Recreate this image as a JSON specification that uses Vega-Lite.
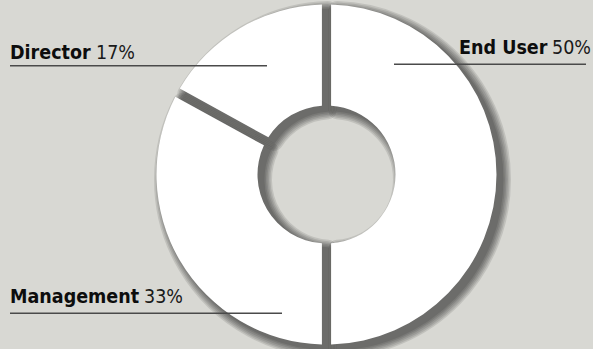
{
  "$schema": "https://vega.github.io/schema/vega-lite/v6.json",
  "width": 533,
  "height": 349,
  "autosize": {"type": "none"},
  "padding": {"left": 60, "top": 0, "right": 0, "bottom": 0},
  "background": "#d8d8d3",
  "config": {"view": {"stroke": null}},
  "data": {
    "values": [
      {"category": "End User", "value": 0.5},
      {"category": "Management", "value": 0.33},
      {"category": "Director", "value": 0.17}
    ]
  },
  "layer": [
    {
      "mark": {"type": "arc", "outerRadius": 170, "innerRadius": 69, "padAngle": 0.05, "fill": "#000", "stroke": "#000", "strokeWidth": 2, "strokeJoin": "round", "opacity": 0.1, "xOffset": 6, "yOffset": 5},
      "encoding": {
        "theta": {"field": "value", "type": "quantitative", "stack": true},
        "order": {"field": "value", "type": "quantitative", "sort": "descending"},
        "detail": {"field": "category"}
      }
    },
    {
      "mark": {"type": "arc", "outerRadius": 170, "innerRadius": 69, "padAngle": 0.05, "fill": "#000", "stroke": "#000", "strokeWidth": 5, "strokeJoin": "round", "opacity": 0.1, "xOffset": 6, "yOffset": 5},
      "encoding": {
        "theta": {"field": "value", "type": "quantitative", "stack": true},
        "order": {"field": "value", "type": "quantitative", "sort": "descending"},
        "detail": {"field": "category"}
      }
    },
    {
      "mark": {"type": "arc", "outerRadius": 170, "innerRadius": 69, "padAngle": 0.05, "fill": "#000", "stroke": "#000", "strokeWidth": 8, "strokeJoin": "round", "opacity": 0.1, "xOffset": 6, "yOffset": 5},
      "encoding": {
        "theta": {"field": "value", "type": "quantitative", "stack": true},
        "order": {"field": "value", "type": "quantitative", "sort": "descending"},
        "detail": {"field": "category"}
      }
    },
    {
      "mark": {"type": "arc", "outerRadius": 170, "innerRadius": 69, "padAngle": 0.05, "fill": "#000", "stroke": "#000", "strokeWidth": 11, "strokeJoin": "round", "opacity": 0.1, "xOffset": 6, "yOffset": 5},
      "encoding": {
        "theta": {"field": "value", "type": "quantitative", "stack": true},
        "order": {"field": "value", "type": "quantitative", "sort": "descending"},
        "detail": {"field": "category"}
      }
    },
    {
      "mark": {"type": "arc", "outerRadius": 170, "innerRadius": 69, "padAngle": 0.05, "fill": "#000", "stroke": "#000", "strokeWidth": 14, "strokeJoin": "round", "opacity": 0.1, "xOffset": 6, "yOffset": 5},
      "encoding": {
        "theta": {"field": "value", "type": "quantitative", "stack": true},
        "order": {"field": "value", "type": "quantitative", "sort": "descending"},
        "detail": {"field": "category"}
      }
    },
    {
      "mark": {"type": "arc", "outerRadius": 170, "innerRadius": 69, "padAngle": 0.05, "fill": "#000", "stroke": "#000", "strokeWidth": 17, "strokeJoin": "round", "opacity": 0.1, "xOffset": 6, "yOffset": 5},
      "encoding": {
        "theta": {"field": "value", "type": "quantitative", "stack": true},
        "order": {"field": "value", "type": "quantitative", "sort": "descending"},
        "detail": {"field": "category"}
      }
    },
    {
      "mark": {"type": "arc", "outerRadius": 170, "innerRadius": 69, "padAngle": 0.05, "fill": "#ffffff", "stroke": null},
      "encoding": {
        "theta": {"field": "value", "type": "quantitative", "stack": true},
        "order": {"field": "value", "type": "quantitative", "sort": "descending"},
        "detail": {"field": "category"}
      }
    },
    {
      "transform": [{"filter": "datum.category === 'Director'"}],
      "layer": [
        {
          "mark": {"type": "rect", "color": "#4a4a4a"},
          "encoding": {
            "x": {"field": "category", "type": "nominal", "axis": null, "scale": {"type": "band", "domain": ["Director"], "range": [-50, 207], "paddingInner": 0, "paddingOuter": 0}},
            "y": {"field": "category", "type": "nominal", "axis": null, "scale": {"type": "band", "domain": ["Director"], "range": [65, 66.5], "paddingInner": 0, "paddingOuter": 0}}
          }
        },
        {
          "mark": {"type": "text", "align": "left", "baseline": "alphabetic", "dy": -6.5, "font": "DejaVu Sans Condensed", "fontWeight": "bold", "fontSize": 19.5, "color": "#0d0d0d"},
          "encoding": {
            "x": {"field": "category", "type": "nominal", "axis": null, "bandPosition": 0, "scale": {"type": "band", "domain": ["Director"], "range": [-50, 207], "paddingInner": 0, "paddingOuter": 0}},
            "y": {"field": "category", "type": "nominal", "axis": null, "scale": {"type": "band", "domain": ["Director"], "range": [65, 66.5], "paddingInner": 0, "paddingOuter": 0}},
            "text": {"field": "category", "type": "nominal"}
          }
        },
        {
          "mark": {"type": "text", "align": "left", "baseline": "alphabetic", "dx": 86, "dy": -6.5, "font": "DejaVu Sans Condensed", "fontWeight": "normal", "fontSize": 19.5, "color": "#1a1a1a"},
          "encoding": {
            "x": {"field": "category", "type": "nominal", "axis": null, "bandPosition": 0, "scale": {"type": "band", "domain": ["Director"], "range": [-50, 207], "paddingInner": 0, "paddingOuter": 0}},
            "y": {"field": "category", "type": "nominal", "axis": null, "scale": {"type": "band", "domain": ["Director"], "range": [65, 66.5], "paddingInner": 0, "paddingOuter": 0}},
            "text": {"field": "value", "type": "quantitative", "format": ".0%"}
          }
        }
      ]
    },
    {
      "transform": [{"filter": "datum.category === 'End User'"}],
      "layer": [
        {
          "mark": {"type": "rect", "color": "#4a4a4a"},
          "encoding": {
            "x": {"field": "category", "type": "nominal", "axis": null, "scale": {"type": "band", "domain": ["End User"], "range": [334, 526], "paddingInner": 0, "paddingOuter": 0}},
            "y": {"field": "category", "type": "nominal", "axis": null, "scale": {"type": "band", "domain": ["End User"], "range": [63.5, 65], "paddingInner": 0, "paddingOuter": 0}}
          }
        },
        {
          "mark": {"type": "text", "align": "left", "baseline": "alphabetic", "dx": 65, "dy": -10, "font": "DejaVu Sans Condensed", "fontWeight": "bold", "fontSize": 19.5, "color": "#0d0d0d"},
          "encoding": {
            "x": {"field": "category", "type": "nominal", "axis": null, "bandPosition": 0, "scale": {"type": "band", "domain": ["End User"], "range": [334, 526], "paddingInner": 0, "paddingOuter": 0}},
            "y": {"field": "category", "type": "nominal", "axis": null, "scale": {"type": "band", "domain": ["End User"], "range": [63.5, 65], "paddingInner": 0, "paddingOuter": 0}},
            "text": {"field": "category", "type": "nominal"}
          }
        },
        {
          "mark": {"type": "text", "align": "right", "baseline": "alphabetic", "dx": 5, "dy": -10, "font": "DejaVu Sans Condensed", "fontWeight": "normal", "fontSize": 19.5, "color": "#1a1a1a"},
          "encoding": {
            "x": {"field": "category", "type": "nominal", "axis": null, "bandPosition": 1, "scale": {"type": "band", "domain": ["End User"], "range": [334, 526], "paddingInner": 0, "paddingOuter": 0}},
            "y": {"field": "category", "type": "nominal", "axis": null, "scale": {"type": "band", "domain": ["End User"], "range": [63.5, 65], "paddingInner": 0, "paddingOuter": 0}},
            "text": {"field": "value", "type": "quantitative", "format": ".0%"}
          }
        }
      ]
    },
    {
      "transform": [{"filter": "datum.category === 'Management'"}],
      "layer": [
        {
          "mark": {"type": "rect", "color": "#4a4a4a"},
          "encoding": {
            "x": {"field": "category", "type": "nominal", "axis": null, "scale": {"type": "band", "domain": ["Management"], "range": [-50, 222], "paddingInner": 0, "paddingOuter": 0}},
            "y": {"field": "category", "type": "nominal", "axis": null, "scale": {"type": "band", "domain": ["Management"], "range": [312.5, 314], "paddingInner": 0, "paddingOuter": 0}}
          }
        },
        {
          "mark": {"type": "text", "align": "left", "baseline": "alphabetic", "dy": -10.5, "font": "DejaVu Sans Condensed", "fontWeight": "bold", "fontSize": 19.5, "color": "#0d0d0d"},
          "encoding": {
            "x": {"field": "category", "type": "nominal", "axis": null, "bandPosition": 0, "scale": {"type": "band", "domain": ["Management"], "range": [-50, 222], "paddingInner": 0, "paddingOuter": 0}},
            "y": {"field": "category", "type": "nominal", "axis": null, "scale": {"type": "band", "domain": ["Management"], "range": [312.5, 314], "paddingInner": 0, "paddingOuter": 0}},
            "text": {"field": "category", "type": "nominal"}
          }
        },
        {
          "mark": {"type": "text", "align": "left", "baseline": "alphabetic", "dx": 134, "dy": -10.5, "font": "DejaVu Sans Condensed", "fontWeight": "normal", "fontSize": 19.5, "color": "#1a1a1a"},
          "encoding": {
            "x": {"field": "category", "type": "nominal", "axis": null, "bandPosition": 0, "scale": {"type": "band", "domain": ["Management"], "range": [-50, 222], "paddingInner": 0, "paddingOuter": 0}},
            "y": {"field": "category", "type": "nominal", "axis": null, "scale": {"type": "band", "domain": ["Management"], "range": [312.5, 314], "paddingInner": 0, "paddingOuter": 0}},
            "text": {"field": "value", "type": "quantitative", "format": ".0%"}
          }
        }
      ]
    }
  ],
  "resolve": {"scale": {"x": "independent", "y": "independent"}}
}
